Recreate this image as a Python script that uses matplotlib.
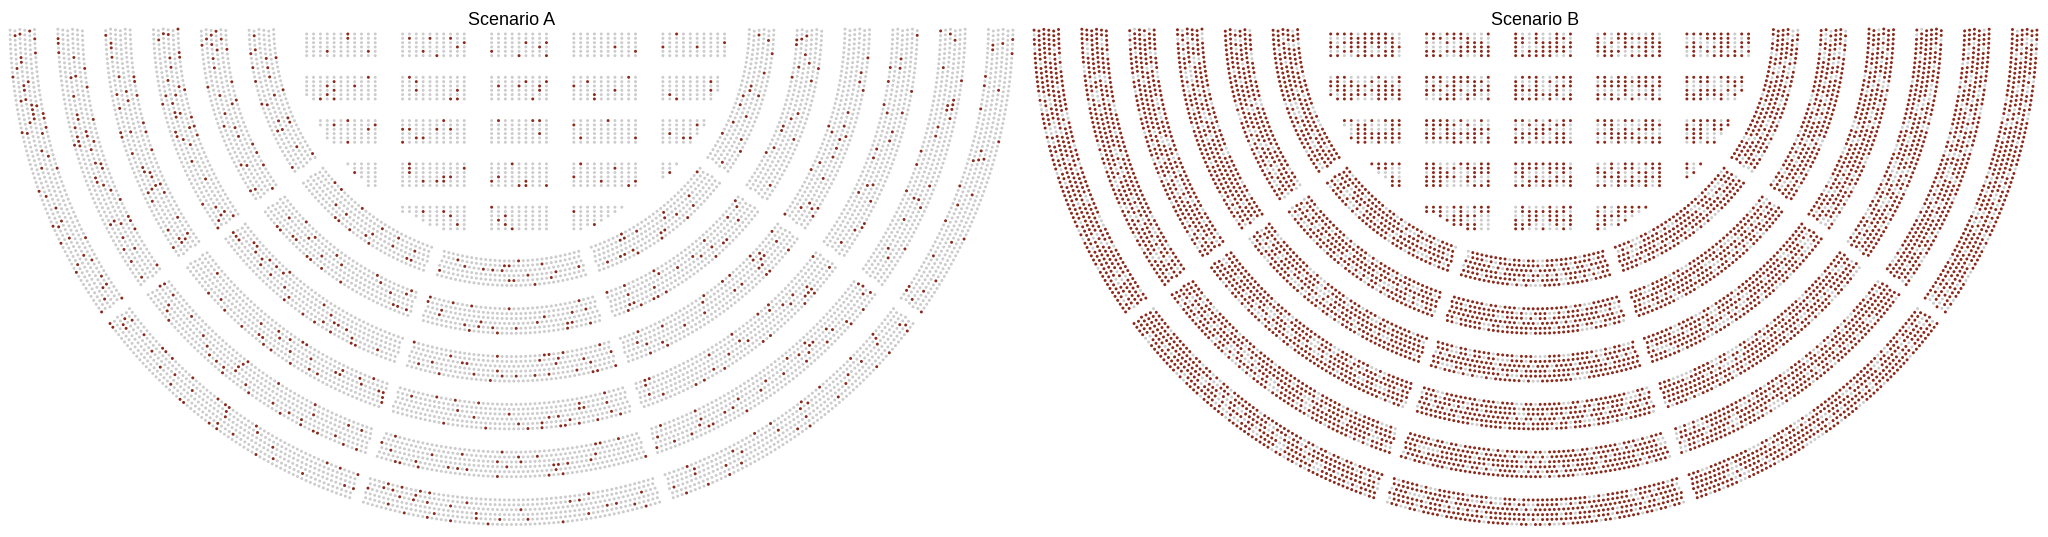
import numpy as np
import matplotlib.pyplot as plt

titles = ['Scenario A', 'Scenario B']

# share of infected seats (%) per ring section
# ring 1 = outermost, sections listed left -> bottom -> right
ring_pct_a = [
    [13, 10, 9, 9, 7],
    [12, 10, 9, 10, 7],
    [12, 10, 9, 10, 7],
    [13, 11, 11, 10, 8],
    [12, 10, 10, 11, 8],
    [11, 9, 9, 10, 8],
]
ring_pct_b = [
    [84, 80, 79, 81, 82],
    [83, 79, 81, 80, 82],
    [82, 81, 79, 80, 81],
    [83, 80, 78, 80, 81],
    [82, 79, 80, 81, 80],
    [84, 80, 78, 79, 80],
]

# share of infected seats (%) per floor block, block rows top -> bottom
floor_pct_a = [
    [6, 12, 11, 3, 7],
    [12, 10, 13, 10, 7],
    [11, 13, 7, 7, 10],
    [5, 15, 13, 10, 10],
    [0, 8, 9, 7, 0],
]
floor_pct_b = [
    [68, 60, 66, 64, 62],
    [64, 62, 63, 66, 60],
    [66, 62, 60, 62, 64],
    [62, 64, 66, 62, 60],
    [60, 62, 60, 64, 60],
]

# layout of the arena (units = pixels, centre of the rings at 0,0)
ring_radius = [501.5, 453.7, 405.9, 358.1, 310.3, 262.5]
rows_per_ring = 6
row_step = 4.9
seat_step = 4.7
end_trim = 6.0
n_sections = 5

block_cols = [11, 10, 9, 10, 11]
aisle_cols = 3
col_step = 6.85
floor_x0 = -204.8
floor_y0 = -11.0
floor_row_step = 4.33
block_rows = 6
block_row_pitch = 10
floor_clip = 218.0

grey = '#cccccc'
red = '#8a2a1c'


def pick(n, pct, seed):
    # spread the infected seats over a section with a fixed hash order
    k = int(round(n * pct / 100.0))
    i = np.arange(n)
    h = np.sin(i * 12.9898 + seed * 78.233) * 43758.5453
    h = h - np.floor(h)
    flags = np.zeros(n, dtype=bool)
    flags[np.argsort(h)[:k]] = True
    return flags


def ring_section(r_out, k):
    xs, ys = [], []
    a0 = np.pi / n_sections * k
    a1 = a0 + np.pi / n_sections
    mid = (a0 + a1) / 2
    for j in range(rows_per_ring):
        r = r_out - j * row_step
        length = r * (a1 - a0) - 2 * end_trim
        n = int(length // seat_step) + 1
        a = mid + (np.arange(n) - (n - 1) / 2) * seat_step / r
        xs.append(-r * np.cos(a))
        ys.append(-r * np.sin(a))
    return np.concatenate(xs), np.concatenate(ys)


def floor_block(bi, bj):
    start = sum(block_cols[:bj]) + aisle_cols * bj
    cols = np.arange(start, start + block_cols[bj])
    rows = np.arange(bi * block_row_pitch, bi * block_row_pitch + block_rows)
    cc, rr = np.meshgrid(cols, rows)
    x = floor_x0 + cc.ravel() * col_step
    y = floor_y0 - rr.ravel() * floor_row_step
    keep = np.hypot(x, y) <= floor_clip
    return x[keep], y[keep]


fig = plt.figure(figsize=(20.48, 5.37), dpi=100)

for p, (title, ring_pct, floor_pct) in enumerate(
        zip(titles, [ring_pct_a, ring_pct_b], [floor_pct_a, floor_pct_b])):
    ax = fig.add_axes([0.5 * p, 0, 0.5, 1])
    xs, ys, cs = [], [], []
    seed = 1 + p * 100
    for ri, r_out in enumerate(ring_radius):
        for k in range(n_sections):
            x, y = ring_section(r_out, k)
            flags = pick(len(x), ring_pct[ri][k], seed)
            seed += 1
            xs.append(x)
            ys.append(y)
            cs.append(np.where(flags, red, grey))
    for bi in range(5):
        for bj in range(5):
            x, y = floor_block(bi, bj)
            if len(x) == 0:
                continue
            flags = pick(len(x), floor_pct[bi][bj], seed)
            seed += 1
            xs.append(x)
            ys.append(y)
            cs.append(np.where(flags, red, grey))
    ax.scatter(np.concatenate(xs), np.concatenate(ys), c=np.concatenate(cs),
               s=4.6, linewidths=0)
    ax.text(0, -2, title, ha='center', va='baseline', fontsize=13,
            family='Liberation Sans')
    ax.set_xlim(-511.5, 512.5)
    ax.set_ylim(-514, 23)
    ax.axis('off')

fig.savefig('out.png', dpi=100)
